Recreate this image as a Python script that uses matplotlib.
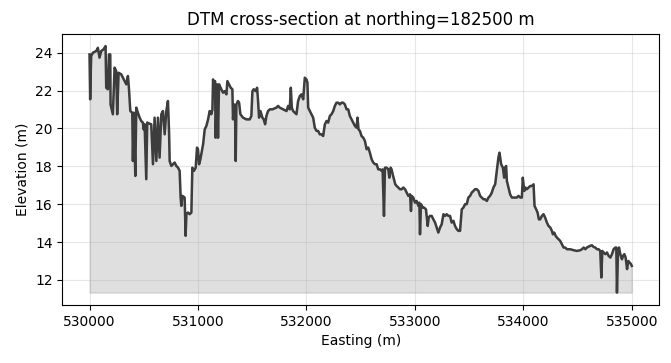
import matplotlib
matplotlib.use("Agg")
import matplotlib.pyplot as plt
import numpy as np

northing = 182500

# profile: easting (m) and elevation (m)
easting = [
    530000, 530006, 530015, 530031, 530062, 530077, 530092, 530108, 530129, 530148,
    530154, 530169, 530179, 530191, 530194, 530215, 530231, 530246, 530255, 530268,
    530292, 530308, 530339, 530354, 530363, 530376, 530394, 530400, 530409, 530422,
    530431, 530446, 530462, 530477, 530492, 530499, 530508, 530523, 530532, 530554,
    530569, 530585, 530600, 530616, 530631, 530646, 530662, 530677, 530693, 530708,
    530723, 530733, 530739, 530754, 530769, 530785, 530800, 530816, 530831, 530840,
    530846, 530856, 530877, 530886, 530893, 530908, 530923, 530939, 530948, 530963,
    530979, 530991, 531000, 531010, 531022, 531047, 531062, 531077, 531093, 531108,
    531123, 531133, 531139, 531148, 531157, 531163, 531176, 531185, 531194,
    531215, 531231, 531246, 531262, 531271, 531286, 531302, 531317, 531323, 531332,
    531342, 531348, 531354, 531369, 531379, 531391, 531403, 531415, 531446, 531477,
    531492, 531502, 531514, 531532, 531545, 531554, 531563, 531576, 531594, 531606,
    531619, 531631, 531646, 531662, 531686, 531723, 531739, 531754, 531785, 531816,
    531831, 531846, 531856, 531865, 531877, 531893, 531908, 531923, 531939, 531954,
    531970, 531985, 532000, 532009, 532016, 532031, 532046, 532062, 532077, 532093,
    532108, 532123, 532139, 532154, 532170, 532185, 532200, 532216, 532231, 532247,
    532262, 532277, 532293, 532308, 532323, 532339, 532354, 532370, 532385, 532400,
    532416, 532431, 532447, 532462, 532471, 532480, 532493,
    532508, 532524, 532539, 532555, 532570, 532585, 532601, 532616, 532632, 532647,
    532662, 532678, 532693, 532702, 532715, 532724, 532739, 532755, 532764, 532776,
    532785, 532795, 532807, 532819, 532832, 532847, 532862, 532878, 532893, 532909,
    532924, 532939, 532955, 532964, 532970, 532985, 533001, 533016, 533032, 533041,
    533047, 533056, 533072, 533084, 533102, 533118, 533127, 533139, 533155, 533170,
    533186, 533201, 533216, 533232, 533247, 533263, 533278, 533293, 533309, 533324,
    533339, 533355, 533370, 533386, 533401, 533416, 533432, 533447, 533463, 533478,
    533493, 533509, 533524, 533540, 533555, 533570, 533586, 533601, 533616, 533632,
    533647, 533663, 533678, 533693, 533709, 533724, 533740, 533755, 533770, 533780,
    533795, 533811, 533823, 533832, 533841, 533848, 533863, 533878, 533894, 533909,
    533940, 533955, 533971, 533986, 533995, 534008, 534020, 534032, 534048, 534063,
    534078, 534094, 534103, 534118, 534131, 534143, 534155, 534171, 534186, 534201,
    534217, 534232, 534248, 534263, 534272, 534285, 534297, 534309, 534325, 534340,
    534355, 534371, 534386, 534402, 534432, 534463, 534494, 534525, 534540, 534556,
    534571, 534586, 534602, 534617, 534632, 534648, 534663, 534679, 534694, 534709,
    534719, 534728, 534740, 534756, 534771, 534786, 534802, 534817, 534832, 534848,
    534857, 534863, 534873, 534882, 534894, 534909, 534919, 534931, 534943, 534956,
    534968, 534980, 534993, 535000,
]
elevation = [
    23.91, 21.54, 23.82, 24.00, 24.09, 24.26, 23.74, 24.09, 24.18, 24.35,
    22.15, 22.07, 23.91, 23.91, 21.27, 20.75, 23.21, 23.03, 20.75, 22.94,
    22.86, 22.68, 22.33, 22.77, 22.15, 20.92, 20.83, 18.28, 20.83, 17.49,
    21.10, 20.83, 20.57, 20.39, 20.31, 19.95, 20.22, 17.32, 20.31, 20.25,
    20.22, 18.11, 20.57, 18.28, 20.57, 18.46, 20.75, 20.92, 19.69, 20.92,
    21.45, 19.87, 18.28, 18.02, 18.11, 18.20, 18.02, 17.93, 17.76, 16.35,
    15.91, 16.44, 16.35, 14.33, 15.47, 15.56, 15.47, 15.56, 17.93, 17.76,
    17.93, 18.99, 18.90, 18.11, 18.37, 19.16, 19.95, 20.13, 20.48, 20.92,
    20.75, 21.01, 22.59, 22.15, 22.50, 19.51, 22.33, 19.51, 22.33,
    22.07, 21.89, 21.97, 21.80, 22.50, 22.33, 22.15, 22.07, 20.48, 21.27,
    20.75, 18.28, 21.27, 21.45, 21.36, 20.75, 20.66, 20.57, 20.48, 20.48,
    20.66, 21.97, 22.07, 21.97, 22.15, 21.45, 20.57, 20.92, 20.57, 20.48,
    20.22, 20.66, 20.92, 21.01, 21.01, 21.10, 21.19, 21.10, 21.01, 20.92,
    21.19, 21.01, 22.15, 21.10, 20.92, 20.83, 20.75, 21.45, 21.71, 21.80,
    21.54, 22.68, 22.59, 22.42, 21.10, 20.92, 20.75, 20.57, 20.04, 19.87,
    19.87, 19.69, 19.69, 19.60, 20.22, 20.39, 20.31, 20.66, 20.75, 20.92,
    21.19, 21.36, 21.36, 21.27, 21.36, 21.36, 21.27, 21.01, 21.01, 20.66,
    20.48, 20.31, 20.13, 20.04, 20.57, 19.95, 19.87,
    19.60, 19.51, 19.34, 18.90, 18.99, 18.72, 18.37, 18.20, 18.11, 18.11,
    17.84, 17.84, 17.76, 17.84, 15.38, 17.93, 17.93, 17.84, 17.40, 17.93,
    17.84, 17.58, 17.32, 17.05, 16.96, 16.88, 16.79, 16.79, 16.88, 16.79,
    16.61, 16.44, 16.52, 15.64, 16.44, 16.35, 16.08, 16.17, 15.91, 16.08,
    14.41, 16.00, 15.82, 15.82, 15.73, 14.85, 15.29, 15.38, 15.38, 15.20,
    15.03, 14.77, 14.50, 14.77, 14.94, 15.47, 15.38, 15.47, 15.38, 15.38,
    15.03, 15.12, 14.85, 14.68, 14.59, 14.59, 15.73, 15.82, 16.00, 16.00,
    16.35, 16.44, 16.61, 16.70, 16.79, 16.79, 16.70, 16.44, 16.35, 16.26,
    16.26, 16.17, 16.35, 16.44, 16.61, 16.88, 17.05, 17.76, 18.46, 18.72,
    18.11, 17.93, 17.40, 17.93, 18.02, 17.23, 16.88, 16.52, 16.35, 16.35,
    16.35, 16.44, 16.35, 16.35, 17.40, 16.70, 16.88, 16.79, 16.88, 16.96,
    16.96, 17.05, 15.91, 15.73, 15.56, 15.20, 15.20, 15.38, 15.47, 15.29,
    15.03, 14.85, 14.77, 14.59, 14.41, 14.50, 14.33, 14.24, 14.15, 14.06,
    13.89, 13.71, 13.71, 13.62, 13.62, 13.57, 13.53, 13.57, 13.62, 13.71,
    13.62, 13.71, 13.76, 13.80, 13.83, 13.74, 13.71, 13.62, 13.62, 13.53,
    12.13, 13.53, 13.45, 13.36, 13.45, 13.27, 13.18, 13.36, 13.62, 13.71,
    13.71, 11.33, 13.53, 13.71, 13.36, 13.09, 13.27, 13.36, 13.18, 12.57,
    13.00, 12.92, 12.83, 12.74,
]

x = np.array(easting, dtype=float)
z = np.array(elevation)

fig, ax = plt.subplots(figsize=(6.71, 3.63), dpi=100)
fig.subplots_adjust(left=0.093, right=0.982, top=0.907, bottom=0.16)

ax.plot(x, z, color="#3d3d3d", lw=1.8)
ax.fill_between(x, z, z.min(), color="gray", alpha=0.25)

ax.set_title(f"DTM cross-section at northing={northing} m", fontsize=12)
ax.set_xlabel("Easting (m)")
ax.set_ylabel("Elevation (m)")
ax.grid(True, alpha=0.3)
ax.ticklabel_format(axis="x", style="plain", useOffset=False)

fig.savefig("out.png", dpi=100)
